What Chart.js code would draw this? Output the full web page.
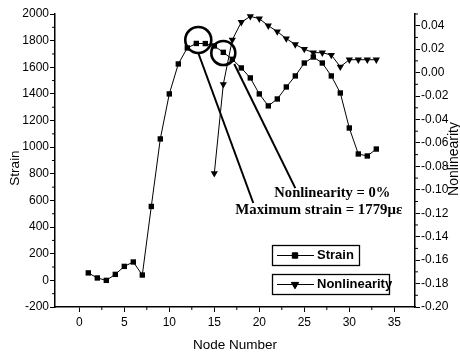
<!DOCTYPE html>
<html><head><meta charset="utf-8">
<script src="https://cdn.jsdelivr.net/npm/chart.js@4"></script>
<style>html,body{margin:0;padding:0;background:#fff}#w{width:460px;height:356px}</style>
</head><body><div id="w"><canvas id="c" width="460" height="356"></canvas></div>
<script>
// ---- data ----
const nodes = [1,2,3,4,5,6,7,8,9,10,11,12,13,14,15,16,17,18,19,20,21,22,23,24,25,26,27,28,29,30,31,32,33];
const strain = [56,18,0,45,105,138,40,555,1062,1400,1625,1745,1779,1778,1760,1712,1660,1595,1520,1400,1310,1362,1452,1535,1632,1677,1632,1535,1407,1144,949,934,986];
const nonlinNodes = [15,16,17,18,19,20,21,22,23,24,25,26,27,28,29,30,31,32,33];
const nonlinearity = [-0.086,-0.010,0.028,0.043,0.048,0.046,0.040,0.035,0.029,0.024,0.020,0.017,0.017,0.015,0.005,0.011,0.011,0.011,0.011];
const xTicks = [0,5,10,15,20,25,30,35];
const strainTicks = [-200,0,200,400,600,800,1000,1200,1400,1600,1800,2000];
const nonlinTicks = [-0.20,-0.18,-0.16,-0.14,-0.12,-0.10,-0.08,-0.06,-0.04,-0.02,0.00,0.02,0.04];
const seriesNames = ['Strain','Nonlinearity'];
// annotations in data coordinates (node, strain)
const circles = [{x:13.22,y:1805,r:13},{x:16.0,y:1707,r:12}];
const pointerLines = [{x1:13.22,y1:1707,x2:19.33,y2:581},{x1:17.22,y1:1625,x2:24.0,y2:693}];
const notes = [{text:'Nonlinearity = 0%',x:21.67,y:650,w:116},{text:'Maximum strain = 1779\u03bc\u03b5',x:17.33,y:525,w:167}];

const F = 'Liberation Sans, Arial, sans-serif';
const SERIF = 'Liberation Serif, Times New Roman, serif';

const axisCommon = {
  grid:{drawOnChartArea:false,drawTicks:true,tickLength:5,color:'#000',lineWidth:1},
  border:{display:true,color:'#000',width:1.5},
  ticks:{color:'#000',font:{family:F,size:12}}
};

const extras = {
  id:'extras',
  afterDraw(chart){
    const {ctx, chartArea:ca, scales} = chart;
    const x = scales.x, y = scales.y, y2 = scales.y2;
    ctx.save();
    ctx.strokeStyle='#000'; ctx.fillStyle='#000'; ctx.lineWidth=1;
    // minor ticks
    ctx.beginPath();
    for(let i=0;i<=xTicks.length;i++){
      const v = (i<xTicks.length? xTicks[i] : xTicks[xTicks.length-1]+5) - 2.5;
      const px = x.getPixelForValue(v);
      if(px>ca.left+3 && px<ca.right-3){ctx.moveTo(px,ca.bottom); ctx.lineTo(px,ca.bottom+3);}
    }
    for(let i=0;i<strainTicks.length-1;i++){
      const py = y.getPixelForValue((strainTicks[i]+strainTicks[i+1])/2);
      ctx.moveTo(ca.left,py); ctx.lineTo(ca.left-3,py);
    }
    for(let i=0;i<nonlinTicks.length-1;i++){
      const py = y2.getPixelForValue((nonlinTicks[i]+nonlinTicks[i+1])/2);
      ctx.moveTo(ca.right,py); ctx.lineTo(ca.right+3,py);
    }
    const lastMinor = y2.getPixelForValue(nonlinTicks[nonlinTicks.length-1]+0.01);
    ctx.moveTo(ca.right,lastMinor); ctx.lineTo(ca.right+3,lastMinor);
    ctx.stroke();

    // circles
    ctx.lineWidth=2.6;
    circles.forEach(c=>{
      ctx.beginPath();
      ctx.arc(x.getPixelForValue(c.x), y.getPixelForValue(c.y), c.r, 0, Math.PI*2);
      ctx.stroke();
    });
    // pointer lines
    ctx.lineWidth=2;
    pointerLines.forEach(l=>{
      ctx.beginPath();
      ctx.moveTo(x.getPixelForValue(l.x1), y.getPixelForValue(l.y1));
      ctx.lineTo(x.getPixelForValue(l.x2), y.getPixelForValue(l.y2));
      ctx.stroke();
    });
    // notes
    ctx.font = 'bold 14px '+SERIF;
    ctx.textBaseline='middle'; ctx.textAlign='left';
    notes.forEach(n=>{
      const px = x.getPixelForValue(n.x), py = y.getPixelForValue(n.y);
      const w = ctx.measureText(n.text).width;
      ctx.save(); ctx.translate(px,py); ctx.scale(n.w/w,1); ctx.fillText(n.text,0,0); ctx.restore();
    });

    // legend
    const lx = ca.left+217, ly = ca.top+231;
    const boxes = [{w:87,h:20,dy:0},{w:117,h:20,dy:29}];
    ctx.lineWidth=1.3;
    ctx.font='bold 13px '+F;
    boxes.forEach((b,i)=>{
      const top = ly+b.dy;
      ctx.strokeRect(lx+0.5, top+0.5, b.w, b.h);
      const my = top + b.h/2 + 0.5;
      ctx.lineWidth=1;
      ctx.beginPath(); ctx.moveTo(lx+5,my); ctx.lineTo(lx+42,my); ctx.stroke();
      const ds = chart.data.datasets[i];
      Chart.helpers.drawPoint(ctx,{pointStyle:ds.pointStyle,radius:ds.pointRadius,rotation:ds.pointRotation||0,borderWidth:1},lx+23,my);
      ctx.fill();
      ctx.lineWidth=1.3;
      ctx.fillText(seriesNames[i], lx+45, my);
    });

    // axis titles
    ctx.font='13.5px '+F;
    ctx.textAlign='center'; ctx.textBaseline='middle';
    ctx.fillText('Node Number', (ca.left+ca.right)/2, ca.bottom+38);
    ctx.save(); ctx.translate(15, ca.top+154); ctx.rotate(-Math.PI/2); ctx.fillText('Strain',0,0); ctx.restore();
    ctx.font='14px '+F;
    ctx.save(); ctx.translate(454, ca.top+145); ctx.rotate(-Math.PI/2); ctx.fillText('Nonlinearity',0,0); ctx.restore();
    ctx.restore();
  }
};

new Chart(document.getElementById('c'), {
  type:'line',
  data:{datasets:[
    {label:seriesNames[0], data:nodes.map((n,i)=>({x:n,y:strain[i]})), yAxisID:'y',
     borderColor:'#000', backgroundColor:'#000', borderWidth:1, tension:0,
     pointStyle:'rect', pointRadius:3.8, pointBorderWidth:0, pointBackgroundColor:'#000'},
    {label:seriesNames[1], data:nonlinNodes.map((n,i)=>({x:n,y:nonlinearity[i]})), yAxisID:'y2',
     borderColor:'#000', backgroundColor:'#000', borderWidth:1, tension:0,
     pointStyle:'triangle', pointRotation:180, pointRadius:4.2, pointBorderWidth:0, pointBackgroundColor:'#000'}
  ]},
  options:{
    responsive:false, animation:false, devicePixelRatio:1,
    layout:{padding:{top:14,left:0,right:0,bottom:0}},
    plugins:{legend:{display:false},tooltip:{enabled:false}},
    scales:{
      x:{type:'linear',position:'bottom',min:-2.7,max:37.3,
        afterBuildTicks:s=>{s.ticks=xTicks.map(v=>({value:v}));},
        afterFit:s=>{s.height=49;},
        grid:axisCommon.grid, border:axisCommon.border,
        ticks:{...axisCommon.ticks,padding:3,maxRotation:0,callback:v=>String(v)}},
      y:{type:'linear',position:'left',min:-200,max:2000,
        afterBuildTicks:s=>{s.ticks=strainTicks.map(v=>({value:v}));},
        afterFit:s=>{s.width=55;},
        grid:axisCommon.grid, border:axisCommon.border,
        ticks:{...axisCommon.ticks,padding:1,callback:v=>String(v)}},
      y2:{type:'linear',position:'right',min:-0.2,max:0.05,
        afterBuildTicks:s=>{s.ticks=nonlinTicks.map(v=>({value:v}));},
        afterFit:s=>{s.width=45;},
        grid:axisCommon.grid, border:axisCommon.border,
        ticks:{...axisCommon.ticks,padding:1,callback:v=>Number(v).toFixed(2)}}
    }
  },
  plugins:[extras]
});
</script></body></html>
